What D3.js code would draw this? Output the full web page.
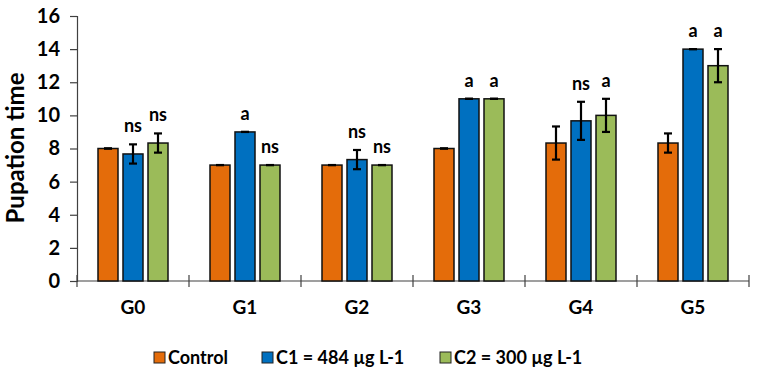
<!DOCTYPE html>
<html>
<head>
<meta charset="utf-8">
<script src="https://cdnjs.cloudflare.com/ajax/libs/d3/7.8.5/d3.min.js"></script>
<style>
  body { margin: 0; background: #fff; }
  text { font-family: Lato, "Liberation Sans", sans-serif; font-weight: bold; fill: #000; }
</style>
</head>
<body>
<div id="chart"></div>
<script>
// data
const groups = ["G0", "G1", "G2", "G3", "G4", "G5"];
const seriesNames = ["Control", "C1 = 484 µg L-1", "C2 = 300 µg L-1"];
const seriesColors = ["#E46C0A", "#0070C0", "#9BBB59"];
const control = [8, 7, 7, 8, 8.33, 8.33];
const c1 = [7.67, 9, 7.33, 11, 9.67, 14];
const c2 = [8.33, 7, 7, 11, 10, 13];
const controlErr = [0, 0, 0, 0, 1, 0.58];
const c1Err = [0.58, 0, 0.58, 0, 1.15, 0];
const c2Err = [0.58, 0, 0, 0, 1, 1];
const c1Sig = ["ns", "a", "ns", "a", "ns", "a"];
const c2Sig = ["ns", "ns", "ns", "a", "a", "a"];
const yTicks = [0, 2, 4, 6, 8, 10, 12, 14, 16];

const width = 758, height = 376;
const plotL = 77, plotR = 749, plotT = 16, plotB = 281;

const svg = d3.select("#chart").append("svg")
  .attr("width", width).attr("height", height);

const x = d3.scaleBand().domain(groups).range([plotL, plotR]).paddingInner(0).paddingOuter(0);
const xInner = d3.scaleBand().domain([0, 1, 2]).range([0, x.bandwidth()])
  .paddingInner(0.2).paddingOuter(0.84);
const y = d3.scaleLinear().domain([0, 16]).range([plotB, plotT]);

const values = [control, c1, c2];
const errs = [controlErr, c1Err, c2Err];
const sigs = [null, c1Sig, c2Sig];

const rows = [];
groups.forEach((g, i) => {
  values.forEach((v, s) => {
    rows.push({ g: g, s: s, v: v[i], e: errs[s][i], sig: sigs[s] ? sigs[s][i] : "" });
  });
});

// y axis
const yAxis = svg.append("g")
  .attr("transform", `translate(${plotL},0)`)
  .call(d3.axisLeft(y).tickValues(yTicks).tickSize(7).tickPadding(10));
yAxis.select(".domain").attr("stroke", "#404040").attr("stroke-width", 1.2);
yAxis.selectAll(".tick line").attr("stroke", "#404040").attr("stroke-width", 1.2);
yAxis.selectAll(".tick text").style("font-size", "20px").attr("fill", "#000");

// x axis: baseline and boundary ticks
svg.append("line")
  .attr("x1", plotL).attr("x2", plotR).attr("y1", y(0)).attr("y2", y(0))
  .attr("stroke", "#404040").attr("stroke-width", 1.2);
const bounds = groups.map(g => x(g)).concat([x(groups[groups.length - 1]) + x.bandwidth()]);
svg.selectAll(".xtick").data(bounds).enter().append("line")
  .attr("x1", d => d).attr("x2", d => d)
  .attr("y1", y(0) - 6).attr("y2", y(0) + 6)
  .attr("stroke", "#404040").attr("stroke-width", 1.2);
svg.selectAll(".xlab").data(groups).enter().append("text")
  .attr("x", d => x(d) + x.bandwidth() / 2)
  .attr("y", 314)
  .attr("text-anchor", "middle")
  .style("font-size", "19px")
  .text(d => d);

// bars
svg.selectAll(".bar").data(rows).enter().append("rect")
  .attr("x", d => x(d.g) + xInner(d.s))
  .attr("y", d => y(d.v))
  .attr("width", xInner.bandwidth())
  .attr("height", d => y(0) - y(d.v))
  .attr("fill", d => seriesColors[d.s])
  .attr("stroke", "#111")
  .attr("stroke-width", 1.5);

// error bars
const cap = 4;
const eb = svg.selectAll(".err").data(rows).enter().append("g")
  .attr("transform", d => `translate(${x(d.g) + xInner(d.s) + xInner.bandwidth() / 2},0)`);
eb.append("line")
  .attr("y1", d => y(d.v + d.e)).attr("y2", d => y(d.v - d.e))
  .attr("stroke", "#000").attr("stroke-width", 2.2);
eb.append("line")
  .attr("x1", -cap).attr("x2", cap)
  .attr("y1", d => y(d.v + d.e)).attr("y2", d => y(d.v + d.e))
  .attr("stroke", "#000").attr("stroke-width", 2.2);
eb.append("line")
  .attr("x1", -cap).attr("x2", cap)
  .attr("y1", d => y(d.v - d.e)).attr("y2", d => y(d.v - d.e))
  .attr("stroke", "#000").attr("stroke-width", 2.2);

// significance letters
svg.selectAll(".sig").data(rows.filter(d => d.sig)).enter().append("text")
  .attr("x", d => x(d.g) + xInner(d.s) + xInner.bandwidth() / 2)
  .attr("y", d => y(d.v + d.e) - 12)
  .attr("text-anchor", "middle")
  .style("font-size", "18px")
  .text(d => d.sig);

// y title
svg.append("text")
  .attr("transform", "translate(24,148) rotate(-90)")
  .attr("text-anchor", "middle")
  .style("font-size", "24px")
  .text("Pupation time");

// legend
const legendX = [154, 262, 440];
const lg = svg.selectAll(".leg").data(seriesNames).enter().append("g")
  .attr("transform", (d, i) => `translate(${legendX[i]},358)`);
lg.append("rect")
  .attr("x", 0).attr("y", -6).attr("width", 11).attr("height", 11)
  .attr("fill", (d, i) => seriesColors[i])
  .attr("stroke", "#222").attr("stroke-width", 1);
lg.append("text")
  .attr("x", 14).attr("y", 6)
  .style("font-size", "18px")
  .text(d => d);
</script>
</body>
</html>
